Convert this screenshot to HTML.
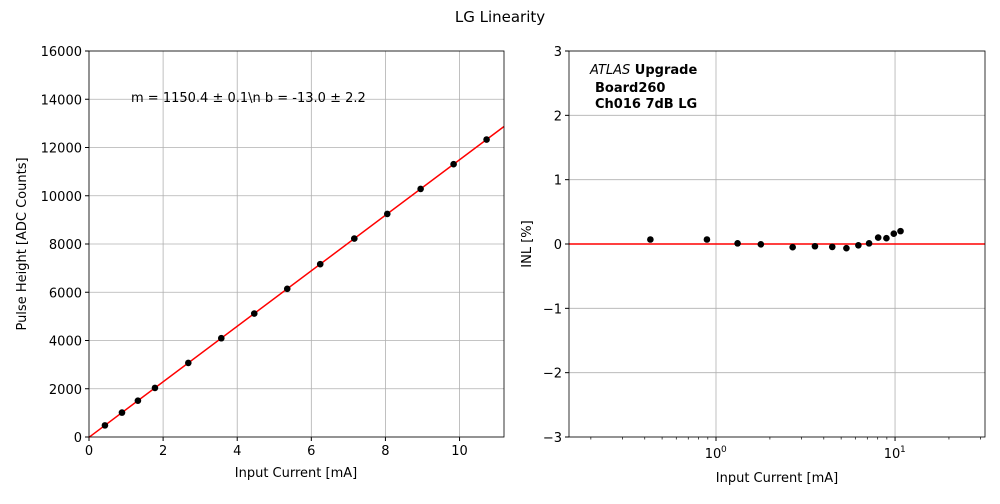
<!DOCTYPE html>
<html><head><meta charset="utf-8"><style>
body{margin:0;background:#fff;font-family:"DejaVu Sans","Liberation Sans",sans-serif}
svg text{font-family:"DejaVu Sans","Liberation Sans",sans-serif;font-size:13px;fill:#000}
</style></head><body>
<svg id="c" width="1000" height="500"></svg>
<script>
const currents=[0.43,0.89,1.32,1.78,2.68,3.57,4.46,5.35,6.24,7.16,8.05,8.95,9.84,10.73];
const heights=[482,1011,1505,2035,3070,4094,5118,6142,7165,8224,9247,10283,11307,12331];
const inl=[0.07,0.07,0.01,-0.005,-0.05,-0.035,-0.045,-0.065,-0.02,0.01,0.10,0.09,0.16,0.20];
const fitM=1150.4, fitB=-13.0;
const xTicksL=[0,2,4,6,8,10];
const yTicksL=[0,2000,4000,6000,8000,10000,12000,14000,16000];
const yTicksR=[-3,-2,-1,0,1,2,3];
const NS="http://www.w3.org/2000/svg";
const svg=document.getElementById('c');
function el(t,a,txt){const e=document.createElementNS(NS,t);for(const k in a)e.setAttribute(k,a[k]);if(txt!==undefined)e.textContent=txt;svg.appendChild(e);return e;}
const L={x0:89,x1:504,y0:437,y1:51,xmax:11.2,ymax:16000};
const lx=v=>L.x0+v/L.xmax*(L.x1-L.x0), ly=v=>L.y0-v/L.ymax*(L.y0-L.y1);
const R={x0:569,x1:985,y0:437,y1:51,lmin:Math.log10(0.151),lmax:Math.log10(31.8)};
const rx=v=>R.x0+(Math.log10(v)-R.lmin)/(R.lmax-R.lmin)*(R.x1-R.x0), ry=v=>R.y0-(v+3)/6*(R.y0-R.y1);
let t=el('text',{x:500,y:22,'text-anchor':'middle',style:'font-size:15px'},'LG Linearity');
xTicksL.forEach(v=>{let g=el('line',{x1:lx(v),x2:lx(v),y1:L.y1,y2:L.y0,stroke:'#b0b0b0','stroke-width':0.8});
 el('line',{x1:lx(v),x2:lx(v),y1:L.y0,y2:L.y0+4,stroke:'#000'});
 let tx=el('text',{x:lx(v),y:L.y0+18,'text-anchor':'middle'},v);});
yTicksL.forEach(v=>{let g=el('line',{x1:L.x0,x2:L.x1,y1:ly(v),y2:ly(v),stroke:'#b0b0b0','stroke-width':0.8});
 el('line',{x1:L.x0-4,x2:L.x0,y1:ly(v),y2:ly(v),stroke:'#000'});
 let tx=el('text',{x:L.x0-7,y:ly(v)+5,'text-anchor':'end'},v);});
let fl=el('line',{x1:lx(0),y1:ly(fitB),x2:lx(L.xmax),y2:ly(fitM*L.xmax+fitB),stroke:'red','stroke-width':1.5});
currents.forEach((c,i)=>{let p=el('circle',{cx:lx(c),cy:ly(heights[i]),r:3.3,fill:'#000'});});
let fr=el('rect',{x:L.x0,y:L.y1,width:L.x1-L.x0,height:L.y0-L.y1,fill:'none',stroke:'#000','stroke-width':0.8});
t=el('text',{x:131,y:102},'m = 1150.4 ± 0.1\\n b = -13.0 ± 2.2');
t=el('text',{x:296,y:477,'text-anchor':'middle'},'Input Current [mA]');
t=el('text',{x:0,y:0,'text-anchor':'middle',transform:'translate(26,244) rotate(-90)'},'Pulse Height [ADC Counts]');
[1,10].forEach(v=>{let g=el('line',{x1:rx(v),x2:rx(v),y1:R.y1,y2:R.y0,stroke:'#b0b0b0','stroke-width':0.8});
 el('line',{x1:rx(v),x2:rx(v),y1:R.y0,y2:R.y0+4,stroke:'#000'});
 let tx=el('text',{x:rx(v)-3,y:R.y0+21,'text-anchor':'middle'},'10');
 el('text',{x:rx(v)+5,y:R.y0+15,style:'font-size:9px'},v===1?'0':'1');});
[0.2,0.3,0.4,0.5,0.6,0.7,0.8,0.9,2,3,4,5,6,7,8,9,20,30].forEach(v=>el('line',{x1:rx(v),x2:rx(v),y1:R.y0,y2:R.y0+2.5,stroke:'#000','stroke-width':0.7}));
yTicksR.forEach(v=>{let g=el('line',{x1:R.x0,x2:R.x1,y1:ry(v),y2:ry(v),stroke:'#b0b0b0','stroke-width':0.8});
 el('line',{x1:R.x0-4,x2:R.x0,y1:ry(v),y2:ry(v),stroke:'#000'});
 let tx=el('text',{x:R.x0-7,y:ry(v)+5,'text-anchor':'end'},v<0?'−'+(-v):v);});
let zl=el('line',{x1:R.x0,x2:R.x1,y1:ry(0),y2:ry(0),stroke:'red','stroke-width':1.5});
currents.forEach((c,i)=>{let p=el('circle',{cx:rx(c),cy:ry(inl[i]),r:3.3,fill:'#000'});});
fr=el('rect',{x:R.x0,y:R.y1,width:R.x1-R.x0,height:R.y0-R.y1,fill:'none',stroke:'#000','stroke-width':0.8});
t=el('text',{x:590,y:74});t.innerHTML='<tspan font-style="italic">ATLAS</tspan><tspan font-weight="bold"> Upgrade</tspan>';
t=el('text',{x:595,y:92,'font-weight':'bold'},'Board260');
t=el('text',{x:595,y:108,'font-weight':'bold'},'Ch016 7dB LG');
t=el('text',{x:777,y:482,'text-anchor':'middle'},'Input Current [mA]');
t=el('text',{x:0,y:0,'text-anchor':'middle',transform:'translate(531,244) rotate(-90)'},'INL [%]');
</script>
</body></html>
